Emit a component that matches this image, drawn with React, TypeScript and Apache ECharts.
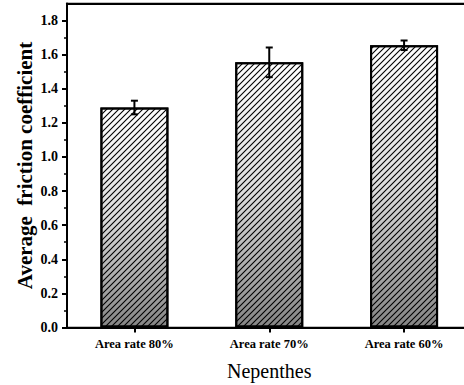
import React, { useEffect, useRef } from "react";
import * as echarts from "echarts";

const categories = ["Area rate 80%", "Area rate 70%", "Area rate 60%"];
const means = [1.29, 1.555, 1.655];
const errors = [0.04, 0.087, 0.028];
const yMajorTicks = [0, 0.2, 0.4, 0.6, 0.8, 1.0, 1.2, 1.4, 1.6, 1.8];
const yMinorTicks = [0.1, 0.3, 0.5, 0.7, 0.9, 1.1, 1.3, 1.5, 1.7];
const yMin = 0;
const yMax = 1.9;
const xTitle = "Nepenthes";
const yTitle = "Average  friction coefficient";

const FONT = "Liberation Serif";

// diagonal "/" stripe tile in a 100x100 cell (with corner pieces so tiles join)
const D = 13;
const HATCH =
  `path://M0,${100 - D} L${100 - D},0 L100,0 L100,${D} L${D},100 L0,100 Z ` +
  `M0,0 L${D},0 L0,${D} Z ` +
  `M100,100 L${100 - D},100 L100,${100 - D} Z`;

export default function App() {
  const ref = useRef<HTMLDivElement>(null);
  useEffect(() => {
    if (!ref.current) return;
    const chart = echarts.init(ref.current, null, { renderer: "svg" });
    const errData = categories.map((_, i) => [i, means[i] - errors[i], means[i] + errors[i]]);
    chart.setOption({
      animation: false,
      backgroundColor: "#fff",
      grid: {
        left: 67,
        right: 8.5,
        top: 3.5,
        bottom: 57.5,
        containLabel: false,
        outerBoundsMode: "none",
        show: true,
        borderColor: "#000",
        borderWidth: 1.5,
        backgroundColor: "transparent",
      },
      xAxis: [
        {
          type: "category",
          data: categories,
          position: "bottom",
          axisLine: { show: true, onZero: false, lineStyle: { color: "#000", width: 2 } },
          axisTick: { show: true, alignWithLabel: true, length: 5, lineStyle: { color: "#000", width: 2 } },
          axisLabel: { color: "#000", fontFamily: FONT, fontWeight: "bold", fontSize: 12.5, margin: 10 },
          splitLine: { show: false },
          name: xTitle,
          nameLocation: "middle",
          nameGap: 33,
          nameMoveOverlap: false,
          nameTextStyle: { color: "#000", fontFamily: FONT, fontSize: 20 },
        },
        {
          type: "category",
          data: categories,
          position: "top",
          axisLine: { show: true, onZero: false, lineStyle: { color: "#000", width: 2 } },
          axisTick: { show: false },
          axisLabel: { show: false },
          splitLine: { show: false },
        },
      ],
      yAxis: [
        {
          type: "value",
          min: yMin,
          max: yMax,
          position: "left",
          axisLine: { show: true, onZero: false, lineStyle: { color: "#000", width: 2 } },
          axisTick: { show: true, length: 5, customValues: yMajorTicks, lineStyle: { color: "#000", width: 2 } },
          axisLabel: {
            customValues: yMajorTicks,
            color: "#000",
            fontFamily: FONT,
            fontWeight: "bold",
            fontSize: 14,
            margin: 9,
            formatter: (v: number) => v.toFixed(1),
          },
          splitLine: { show: false },
          name: yTitle,
          nameLocation: "middle",
          nameGap: 32,
          nameMoveOverlap: false,
          nameTextStyle: { color: "#000", fontFamily: FONT, fontSize: 21, fontWeight: "bold" },
        },
        {
          type: "value",
          min: yMin,
          max: yMax,
          position: "left",
          axisLine: { show: false },
          axisTick: { show: true, length: 3, customValues: yMinorTicks, lineStyle: { color: "#000", width: 1.5 } },
          axisLabel: { show: false },
          splitLine: { show: false },
        },
      ],
      series: [
        {
          type: "bar",
          data: means,
          barWidth: 68,
          xAxisIndex: 0,
          yAxisIndex: 0,
          itemStyle: {
            color: new echarts.graphic.LinearGradient(0, 0, 0, 1, [
              { offset: 0, color: "#ffffff" },
              { offset: 0.5, color: "#dcdcdc" },
              { offset: 1, color: "#858585" },
            ]),
            borderColor: "#000",
            borderWidth: 2,
            decal: {
              symbol: HATCH,
              symbolSize: 1,
              symbolKeepAspect: false,
              color: "#000",
              dashArrayX: [5.7, 0],
              dashArrayY: [5.7, 0],
              rotation: 0,
            },
          },
        },
        {
          type: "custom",
          xAxisIndex: 0,
          yAxisIndex: 0,
          data: errData,
          z: 5,
          renderItem: (params: any, api: any) => {
            const x = api.value(0);
            const lo = api.coord([x, api.value(1)]);
            const hi = api.coord([x, api.value(2)]);
            const hw = 3.5;
            const style = { stroke: "#000", lineWidth: 2 };
            return {
              type: "group",
              children: [
                { type: "line", shape: { x1: lo[0], y1: lo[1], x2: hi[0], y2: hi[1] }, style },
                { type: "line", shape: { x1: hi[0] - hw, y1: hi[1], x2: hi[0] + hw, y2: hi[1] }, style },
                { type: "line", shape: { x1: lo[0] - hw, y1: lo[1], x2: lo[0] + hw, y2: lo[1] }, style },
              ],
            };
          },
        },
      ],
    });
    return () => chart.dispose();
  }, []);
  return (
    <div
      style={{
        position: "fixed",
        left: 0,
        top: 0,
        width: 464,
        height: 385,
        overflow: "hidden",
        background: "#fff",
      }}
    >
      <div ref={ref} style={{ width: 480, height: 385 }} />
    </div>
  );
}
